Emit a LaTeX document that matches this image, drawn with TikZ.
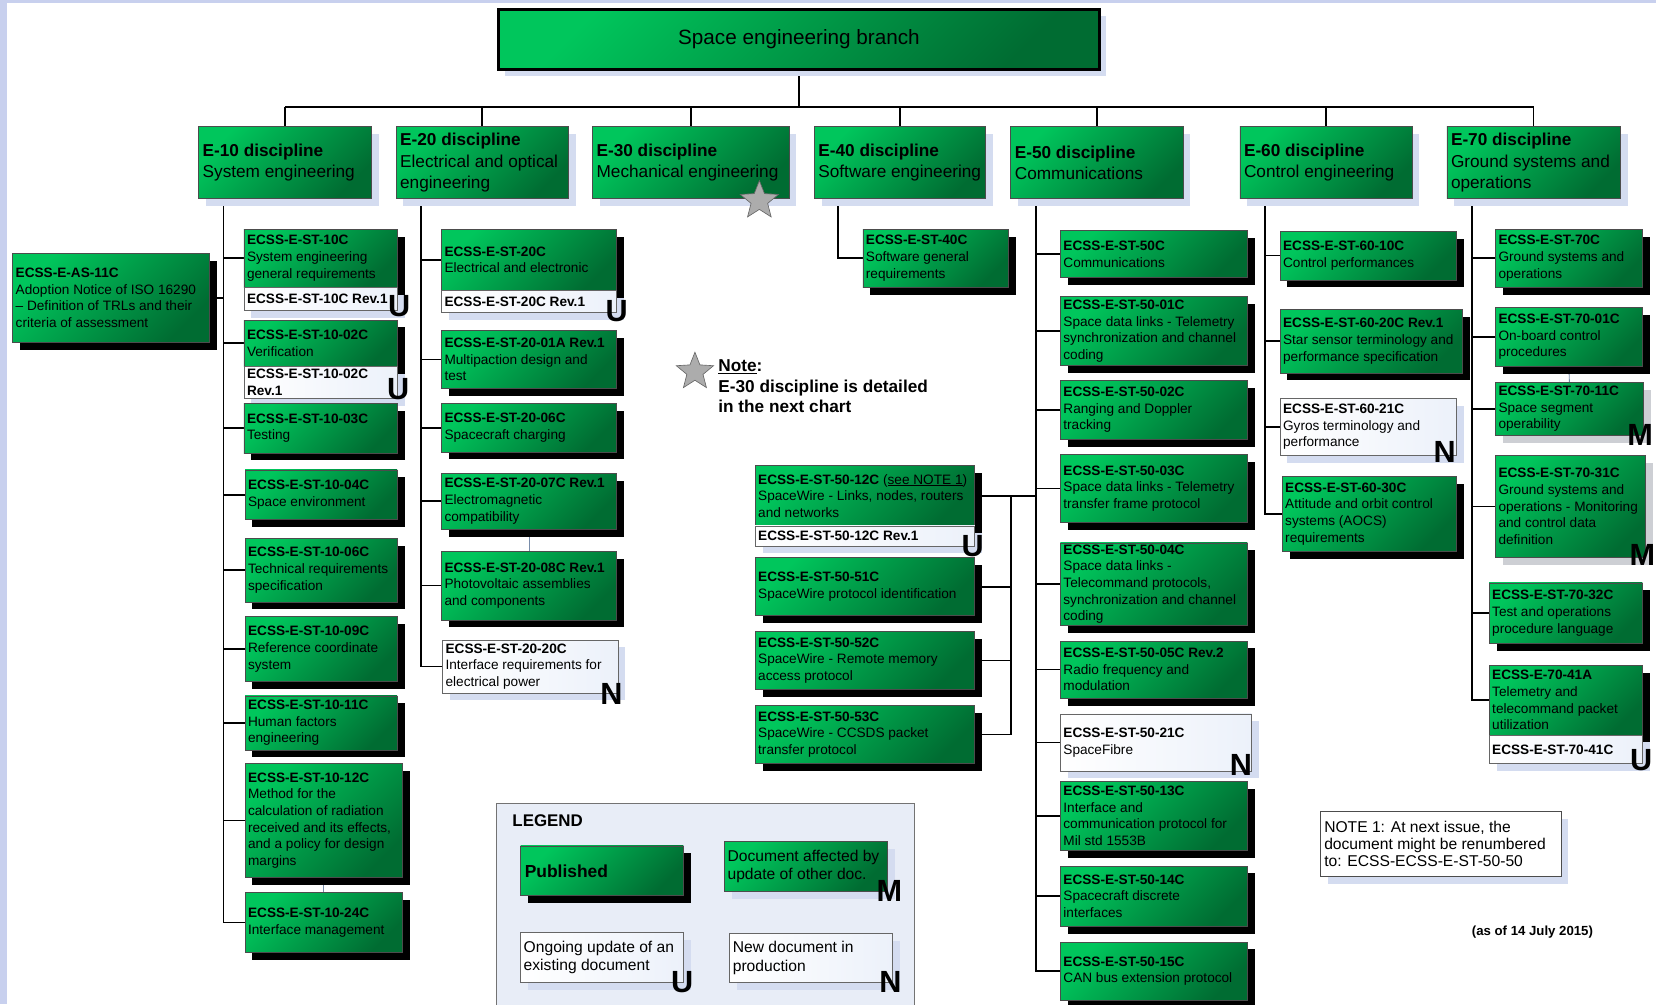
\documentclass[tikz,border=0pt]{standalone}
\usepackage{fontspec}
\setmainfont{Liberation Sans}
\usetikzlibrary{fit,shapes.geometric}
\pgfdeclarelayer{bg}
\pgfsetlayers{bg,main}
\definecolor{gA}{RGB}{0,198,92}
\definecolor{gB}{RGB}{0,108,50}
\definecolor{lsh}{RGB}{212,220,240}
\definecolor{lgr}{RGB}{205,207,212}
\definecolor{framec}{RGB}{200,208,238}
\definecolor{legbg}{RGB}{232,237,247}
\definecolor{wB}{RGB}{236,241,250}
\definecolor{faintc}{RGB}{120,140,170}
\newcommand{\dfont}{\fontsize{12.9}{15.8}\selectfont}
\newcommand{\hfont}{\fontsize{16.3}{20}\selectfont}
\tikzset{
 gbox/.style={inner sep=0pt, draw=black!70, line width=0.6pt, top color=gA, bottom color=gB, shading angle=45},
 wbox/.style={inner sep=0pt, draw=black!60, line width=0.6pt, left color=white, right color=wB},
 doctext/.style={anchor=west, align=left, inner sep=0pt, font=\dfont},
 headtext/.style={anchor=west, align=left, inner sep=0pt, font=\hfont},
 flag/.style={inner sep=0pt, font=\fontsize{29}{29}\selectfont\bfseries},
 conn/.style={line width=1.6pt, black},
 faint/.style={line width=0.8pt, faintc},
 starshape/.style={star, star points=5, star point ratio=2.3, fill=gray!65, draw=black!60, line width=0.6pt, inner sep=0pt},
}
\newcommand{\GDoc}[7]{%
 \fill[#6] ({#2+7},{#3+7}) rectangle ({#4+7},{#5+7});
 \node[gbox, fit={(#2,#3) (#4,#5)}] (#1) {};
 \node[doctext] (#1-t) at ([xshift=3pt]#1.west) {#7};}
\newcommand{\WDoc}[6]{%
 \fill[lsh] ({#2+7},{#3+7}) rectangle ({#4+7},{#5+7});
 \node[wbox, fit={(#2,#3) (#4,#5)}] (#1) {};
 \node[doctext] (#1-t) at ([xshift=3pt]#1.west) {#6};}
\newcommand{\DBox}[6]{%
 \fill[lsh] ({#2+7},{#3+7}) rectangle ({#4+7},{#5+7});
 \node[gbox, fit={(#2,#3) (#4,#5)}] (#1) {};
 \node[headtext] (#1-t) at ([xshift=4pt]#1.west) {#6};}
\begin{document}
\begin{tikzpicture}[x=1pt,y=-1pt]
\useasboundingbox (0,0) rectangle (1568,951);
\clip (0,0) rectangle (1568,951);
\begin{pgfonlayer}{bg}
\fill[white] (0,0) rectangle (1568,951);
\fill[framec] (0,0) rectangle (7,951);
\fill[framec] (0,0) rectangle (1568,3);
\end{pgfonlayer}

% top box
\fill[lsh] (478,15) rectangle (1047,72);
\node[gbox, draw=black, line width=2.6pt, fit={(472,9) (1041,66)}] (top) {};
\node[font=\fontsize{19.6}{22}\selectfont, inner sep=0pt] (top-t) at (top) {Space engineering branch};

% disciplines
\DBox{e10}{188}{120}{352}{188}{\textbf{E-10 discipline}\\System engineering}
\DBox{e20}{375}{120}{538}{188}{\textbf{E-20 discipline}\\Electrical and optical\\engineering}
\DBox{e30}{561}{120}{747}{188}{\textbf{E-30 discipline}\\Mechanical engineering}
\DBox{e40}{771}{120}{933}{188}{\textbf{E-40 discipline}\\Software engineering}
\DBox{e50}{957}{120}{1120}{188}{\textbf{E-50 discipline}\\Communications}
\DBox{e60}{1174}{120}{1337}{188}{\textbf{E-60 discipline}\\Control engineering}
\DBox{e70}{1370}{120}{1534}{188}{\textbf{E-70 discipline}\\Ground systems and\\operations}
\node[starshape, minimum size=38pt] (s30) at (719,190) {};

% E-10
\GDoc{as11}{12}{240}{198}{324}{black}{\textbf{ECSS-E-AS-11C}\\Adoption Notice of ISO 16290\\– Definition of TRLs and their\\criteria of assessment}
\GDoc{c10a}{231}{217}{376}{272}{black}{\textbf{ECSS-E-ST-10C}\\System engineering\\general requirements}
\WDoc{c10aw}{231}{272}{376}{294}{\textbf{ECSS-E-ST-10C Rev.1}}
\GDoc{c10b}{231}{303}{376}{347}{black}{\textbf{ECSS-E-ST-10-02C}\\Verification}
\WDoc{c10bw}{231}{347}{376}{377}{\textbf{ECSS-E-ST-10-02C}\\\textbf{Rev.1}}
\GDoc{c10c}{231}{382}{376}{429}{black}{\textbf{ECSS-E-ST-10-03C}\\Testing}
\GDoc{c10d}{232}{445}{376}{492}{black}{\textbf{ECSS-E-ST-10-04C}\\Space environment}
\GDoc{c10e}{232}{510}{376}{570}{black}{\textbf{ECSS-E-ST-10-06C}\\Technical requirements\\specification}
\GDoc{c10f}{232}{584}{376}{645}{black}{\textbf{ECSS-E-ST-10-09C}\\Reference coordinate\\system}
\GDoc{c10g}{232}{659}{376}{710}{black}{\textbf{ECSS-E-ST-10-11C}\\Human factors\\engineering}
\GDoc{c10h}{232}{723}{381}{831}{black}{\textbf{ECSS-E-ST-10-12C}\\Method for the\\calculation of radiation\\received and its effects,\\and a policy for design\\margins}
\GDoc{c10i}{232}{845}{381}{902}{black}{\textbf{ECSS-E-ST-10-24C}\\Interface management}

% E-20
\GDoc{c20a}{418}{217}{584}{275}{black}{\textbf{ECSS-E-ST-20C}\\Electrical and electronic}
\WDoc{c20aw}{418}{275}{584}{296}{\textbf{ECSS-E-ST-20C Rev.1}}
\GDoc{c20b}{418}{313}{584}{368}{black}{\textbf{ECSS-E-ST-20-01A Rev.1}\\Multipaction design and\\test}
\GDoc{c20c}{418}{382}{584}{428}{black}{\textbf{ECSS-E-ST-20-06C}\\Spacecraft charging}
\GDoc{c20d}{418}{448}{584}{501}{black}{\textbf{ECSS-E-ST-20-07C Rev.1}\\Electromagnetic\\compatibility}
\GDoc{c20e}{418}{522}{584}{587}{black}{\textbf{ECSS-E-ST-20-08C Rev.1}\\Photovoltaic assemblies\\and components}
\WDoc{c20f}{419}{606}{585}{656}{\textbf{ECSS-E-ST-20-20C}\\Interface requirements for\\electrical power}

% E-40
\GDoc{c40}{817}{217}{955}{272}{black}{\textbf{ECSS-E-ST-40C}\\Software general\\requirements}

% E-50 left group
\GDoc{c50l1}{715}{441}{923}{498}{black}{\textbf{ECSS-E-ST-50-12C} (\underline{see NOTE 1})\\SpaceWire - Links, nodes, routers\\and networks}
\WDoc{c50l1w}{715}{498}{923}{517}{\textbf{ECSS-E-ST-50-12C Rev.1}}
\GDoc{c50l2}{715}{528}{923}{583}{black}{\textbf{ECSS-E-ST-50-51C}\\SpaceWire protocol identification}
\GDoc{c50l3}{715}{598}{923}{653}{black}{\textbf{ECSS-E-ST-50-52C}\\SpaceWire - Remote memory\\access protocol}
\GDoc{c50l4}{715}{668}{923}{723}{black}{\textbf{ECSS-E-ST-50-53C}\\SpaceWire - CCSDS packet\\transfer protocol}

% E-50 right
\GDoc{c50a}{1004}{218}{1181}{263}{black}{\textbf{ECSS-E-ST-50C}\\Communications}
\GDoc{c50b}{1004}{281}{1181}{346}{black}{\textbf{ECSS-E-ST-50-01C}\\Space data links - Telemetry\\synchronization and channel\\coding}
\GDoc{c50c}{1004}{360}{1181}{416}{black}{\textbf{ECSS-E-ST-50-02C}\\Ranging and Doppler\\tracking}
\GDoc{c50d}{1004}{430}{1181}{495}{black}{\textbf{ECSS-E-ST-50-03C}\\Space data links - Telemetry\\transfer frame protocol}
\GDoc{c50e}{1004}{514}{1181}{592}{black}{\textbf{ECSS-E-ST-50-04C}\\Space data links -\\Telecommand protocols,\\synchronization and channel\\coding}
\GDoc{c50f}{1004}{607}{1181}{661}{black}{\textbf{ECSS-E-ST-50-05C Rev.2}\\Radio frequency and\\modulation}
\WDoc{c50g}{1004}{676}{1185}{730}{\textbf{ECSS-E-ST-50-21C}\\SpaceFibre}
\GDoc{c50h}{1004}{740}{1181}{805}{black}{\textbf{ECSS-E-ST-50-13C}\\Interface and\\communication protocol for\\Mil std 1553B}
\GDoc{c50i}{1004}{820}{1181}{877}{black}{\textbf{ECSS-E-ST-50-14C}\\Spacecraft discrete\\interfaces}
\GDoc{c50j}{1004}{892}{1181}{947}{black}{\textbf{ECSS-E-ST-50-15C}\\CAN bus extension protocol}

% E-60
\GDoc{c60a}{1212}{219}{1379}{265}{black}{\textbf{ECSS-E-ST-60-10C}\\Control performances}
\GDoc{c60b}{1212}{293}{1385}{353}{black}{\textbf{ECSS-E-ST-60-20C Rev.1}\\Star sensor terminology and\\performance specification}
\WDoc{c60c}{1212}{377}{1379}{431}{\textbf{ECSS-E-ST-60-21C}\\Gyros terminology and\\performance}
\GDoc{c60d}{1214}{451}{1379}{522}{black}{\textbf{ECSS-E-ST-60-30C}\\Attitude and orbit control\\systems (AOCS)\\requirements}

% E-70
\GDoc{c70a}{1416}{217}{1555}{272}{black}{\textbf{ECSS-E-ST-70C}\\Ground systems and\\operations}
\GDoc{c70b}{1416}{291}{1555}{347}{black}{\textbf{ECSS-E-ST-70-01C}\\On-board control\\procedures}
\GDoc{c70c}{1416}{362}{1556}{412}{lgr}{\textbf{ECSS-E-ST-70-11C}\\Space segment\\operability}
\GDoc{c70d}{1416}{431}{1558}{528}{lgr}{\textbf{ECSS-E-ST-70-31C}\\Ground systems and\\operations - Monitoring\\and control data\\definition}
\GDoc{c70e}{1410}{552}{1555}{609}{black}{\textbf{ECSS-E-ST-70-32C}\\Test and operations\\procedure language}
\GDoc{c70f}{1410}{630}{1555}{696}{black}{\textbf{ECSS-E-70-41A}\\Telemetry and\\telecommand packet\\utilization}
\WDoc{c70fw}{1410}{696}{1555}{723}{\textbf{ECSS-E-ST-70-41C}}

% note with star
\node[starshape, minimum size=37pt] (nstar) at (658,352) {};
\node[anchor=west, align=left, inner sep=0pt, font=\fontsize{16.3}{19.5}\selectfont\bfseries] (note) at (680,366) {\underline{Note}:\\E-30 discipline is detailed\\in the next chart};

% NOTE 1
\fill[lsh] (1257,775) rectangle (1485,837);
\node[fit={(1250,768) (1478,830)}, inner sep=0pt, draw=black!70, fill=white, line width=0.6pt] (note1) {};
\node[anchor=west, align=left, inner sep=0pt, font=\fontsize{14.8}{16.5}\selectfont] (note1-t) at ([xshift=4pt]note1.west) {NOTE 1: At next issue, the\\document might be renumbered\\to: ECSS-ECSS-E-ST-50-50};
\node[inner sep=0pt, font=\fontsize{12.5}{14}\selectfont\bfseries] (asof) at (1451,883) {(as of 14 July 2015)};

% legend
\node[fit={(470,761) (866,975)}, inner sep=0pt, draw=black!55, fill=legbg, line width=0.8pt] (legend) {};
\node[anchor=west, inner sep=0pt, font=\fontsize{16}{18}\selectfont\bfseries] (legend-t) at (485,777) {LEGEND};
\fill[black] (500,808) rectangle (654,855);
\node[gbox, fit={(493,801) (647,848)}] (lpub) {};
\node[anchor=west, inner sep=0pt, font=\fontsize{16.5}{18}\selectfont\bfseries] (lpub-t) at ([xshift=4pt]lpub.west) {Published};
\fill[lsh] (693,804) rectangle (847,851);
\node[gbox, fit={(686,797) (840,844)}] (lmod) {};
\node[anchor=west, align=left, inner sep=0pt, font=\fontsize{14.8}{17.5}\selectfont] (lmod-t) at ([xshift=3pt]lmod.west) {Document affected by\\update of other doc.};
\fill[lsh] (500,890) rectangle (654,937);
\node[wbox, fit={(493,883) (647,930)}] (lupd) {};
\node[anchor=west, align=left, inner sep=0pt, font=\fontsize{14.8}{17.5}\selectfont] (lupd-t) at ([xshift=3pt]lupd.west) {Ongoing update of an\\existing document};
\fill[lsh] (698,891) rectangle (852,937);
\node[wbox, fit={(691,884) (845,930)}] (lnew) {};
\node[anchor=west, align=left, inner sep=0pt, font=\fontsize{14.8}{17.5}\selectfont] (lnew-t) at ([xshift=3pt]lnew.west) {New document in\\production};

% flags
\node[flag] (u10a) at (378,290) {U};
\node[flag] (u10b) at (377,368) {U};
\node[flag] (u20a) at (584,295) {U};
\node[flag] (n20f) at (579,657) {N};
\node[flag] (u50l1) at (921,517) {U};
\node[flag] (n50g) at (1175,724) {N};
\node[flag] (n60c) at (1368,428) {N};
\node[flag] (m70c) at (1553,412) {M};
\node[flag] (m70d) at (1555,525) {M};
\node[flag] (u70f) at (1554,720) {U};
\node[flag] (lm) at (842,844) {M};
\node[flag] (lu) at (646,930) {U};
\node[flag] (ln) at (843,930) {N};

% connectors (behind boxes)
\begin{pgfonlayer}{bg}
\coordinate (busy) at (0,101);
\draw[conn] (top.south) -- (top.south |- busy);
\draw[conn] (e10.north |- busy) -- (e70.north |- busy);
\foreach \e in {e10,e20,e30,e40,e50,e60,e70} \draw[conn] (\e.north) -- (\e.north |- busy);
\coordinate (t10) at ([xshift=24pt]e10.south west);
\coordinate (t20) at ([xshift=24pt]e20.south west);
\coordinate (t40) at ([xshift=23pt]e40.south west);
\coordinate (t50) at ([xshift=24pt]e50.south west);
\coordinate (t60) at ([xshift=24pt]e60.south west);
\coordinate (t70) at ([xshift=24pt]e70.south west);
\foreach \c in {c10a,c10b,c10c,c10d,c10e,c10f,c10g,c10h,c10i} \draw[conn] (t10) |- (\c.west);
\draw[conn] (t10) |- (as11.east);
\foreach \c in {c20a,c20b,c20c,c20d,c20e,c20f} \draw[conn] (t20) |- (\c.west);
\draw[conn] (t40) |- (c40.west);
\foreach \c in {c50a,c50b,c50c,c50d,c50e,c50f,c50g,c50h,c50i,c50j} \draw[conn] (t50) |- (\c.west);
\coordinate (sbx) at (957,0);
\draw[conn] (c50l1.east) -- (c50l1.east -| t50);
\foreach \c in {c50l2,c50l3,c50l4} \draw[conn] (c50l1.east -| sbx) |- (\c.east);
\foreach \c in {c60a,c60b,c60c,c60d} \draw[conn] (t60) |- (\c.west);
\foreach \c in {c70a,c70b,c70c,c70d,c70e,c70f} \draw[conn] (t70) |- (\c.west);
\draw[faint] (c10h.south) -- (c10i.north);
\draw[faint] (c20d.south) -- (c20e.north);
\draw[faint] (c70b.south) -- (c70c.north);
\end{pgfonlayer}
\end{tikzpicture}
\end{document}
